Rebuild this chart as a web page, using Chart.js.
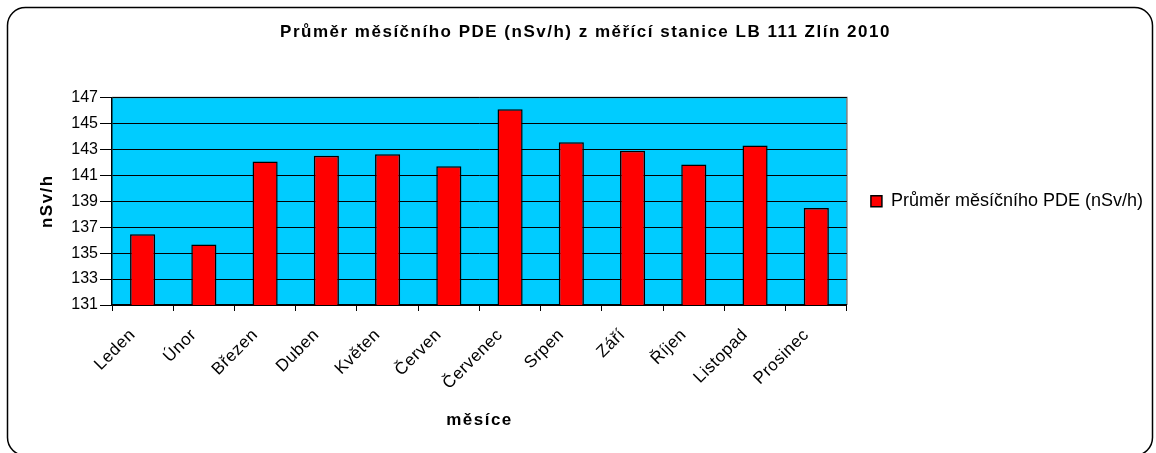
<!DOCTYPE html>
<html>
<head>
<meta charset="utf-8">
<script src="https://cdn.jsdelivr.net/npm/chart.js@4"></script>
<style>
  html, body { margin: 0; padding: 0; background: #fff; }
  #wrap { width: 1156px; height: 453px; }
</style>
</head>
<body>
<div id="wrap"><canvas id="chart" width="1156" height="453"></canvas></div>
<script>
// --- Data ---
const months = ['Leden', 'Únor', 'Březen', 'Duben', 'Květen', 'Červen',
  'Červenec', 'Srpen', 'Září', 'Říjen', 'Listopad', 'Prosinec'];
const pdeValues = [136.45, 135.66, 142.06, 142.5, 142.62, 141.7,
  146.08, 143.54, 142.88, 141.83, 143.29, 138.47];
const seriesLabel = 'Průměr měsíčního PDE (nSv/h)';
const chartTitle = 'Průměr měsíčního PDE (nSv/h) z měřící stanice LB 111 Zlín 2010';
const xTitle = 'měsíce';
const yTitle = 'nSv/h';

const FONT = 'Arial, "Liberation Sans", sans-serif';

// Excel-like wide letter spacing for the bold titles and the 17px month labels
const canvas = document.getElementById('chart');
const ctx = canvas.getContext('2d');
const fontDesc = Object.getOwnPropertyDescriptor(CanvasRenderingContext2D.prototype, 'font');
Object.defineProperty(ctx, 'font', {
  get() { return fontDesc.get.call(this); },
  set(v) {
    fontDesc.set.call(this, v);
    if ('letterSpacing' in this) {
      if (/bold/.test(v)) this.letterSpacing = '1.5px';
      else if (/17px/.test(v)) this.letterSpacing = '0.5px';
      else this.letterSpacing = '0px';
    }
  }
});

// rounded frame around the whole chart + blue plot background
const framePlugin = {
  id: 'frame',
  beforeDraw(chart) {
    const c = chart.ctx;
    const a = chart.chartArea;
    c.save();
    c.fillStyle = '#fff';
    c.fillRect(0, 0, chart.width, chart.height);
    c.strokeStyle = '#000';
    c.lineWidth = 1.5;
    c.beginPath();
    c.roundRect(7.5, 7.5, 1145, 448, 18);
    c.stroke();
    c.fillStyle = '#00CCFF';
    c.fillRect(a.left, a.top, a.right - a.left, a.bottom - a.top);
    c.strokeStyle = '#808080';
    c.lineWidth = 1.5;
    c.beginPath();
    c.moveTo(a.left, a.top);
    c.lineTo(a.right, a.top);
    c.lineTo(a.right, a.bottom);
    c.stroke();
    c.restore();
  }
};

new Chart(canvas, {
  type: 'bar',
  data: {
    labels: months,
    datasets: [{
      label: seriesLabel,
      data: pdeValues,
      backgroundColor: '#FF0000',
      borderColor: '#000',
      borderWidth: 1.5,
      borderSkipped: false,
      categoryPercentage: 1,
      barPercentage: 0.41
    }]
  },
  options: {
    responsive: false,
    animation: false,
    layout: { padding: { left: 18, right: 3, top: 5, bottom: 18 } },
    plugins: {
      title: {
        display: true,
        text: chartTitle,
        color: '#000',
        font: { family: FONT, size: 17, weight: 'bold' },
        padding: { top: 17, bottom: 55 }
      },
      legend: {
        position: 'right',
        fullSize: false,
        maxWidth: 340,
        labels: {
          color: '#000',
          font: { family: FONT, size: 18 },
          boxWidth: 11,
          boxHeight: 11,
          padding: 24
        }
      },
      tooltip: { enabled: false }
    },
    scales: {
      x: {
        grid: { drawOnChartArea: false, drawTicks: true, tickLength: 6, color: '#000' },
        border: { color: '#000', width: 1.5 },
        ticks: {
          color: '#000',
          font: { family: FONT, size: 17 },
          maxRotation: 45,
          minRotation: 45,
          labelOffset: -10,
          padding: 14
        },
        title: {
          display: true,
          text: xTitle,
          color: '#000',
          font: { family: FONT, size: 17, weight: 'bold' },
          padding: { top: 4, bottom: 4 }
        },
        afterFit(scale) { scale.height = 130; }
      },
      y: {
        min: 131,
        max: 147,
        grid: { color: '#000', lineWidth: 1, tickLength: 12 },
        border: { color: '#000', width: 1.5 },
        ticks: {
          stepSize: 2,
          color: '#000',
          font: { family: FONT, size: 16 },
          padding: 2
        },
        title: {
          display: true,
          text: yTitle,
          color: '#000',
          font: { family: FONT, size: 17, weight: 'bold' },
          padding: { top: 19, bottom: 4 }
        },
        afterFit(scale) { scale.width = 94; }
      }
    }
  },
  plugins: [framePlugin]
});
</script>
</body>
</html>
